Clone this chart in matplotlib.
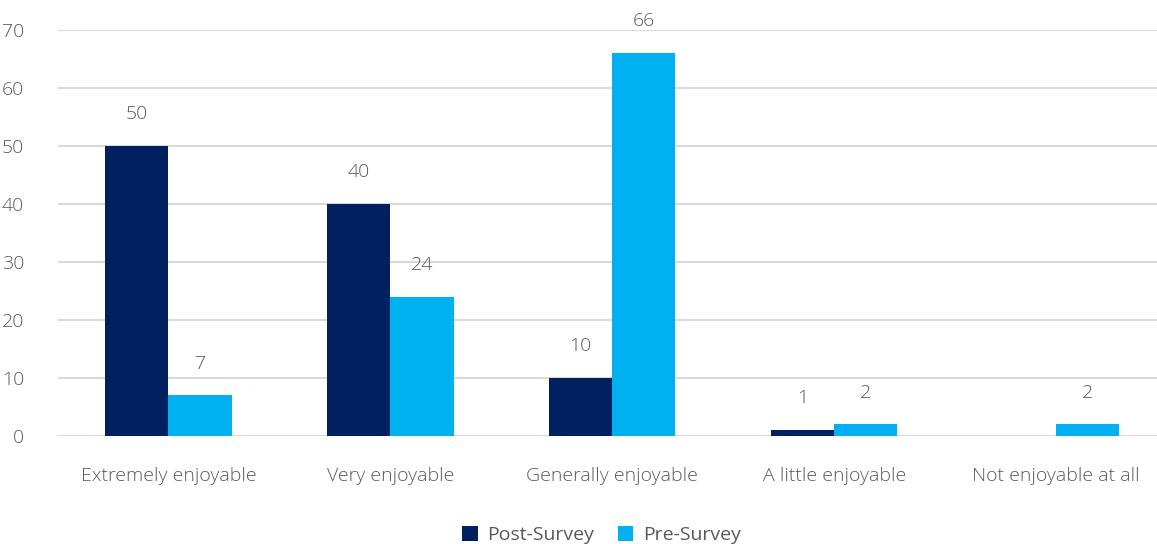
import matplotlib
matplotlib.use("Agg")
import matplotlib.pyplot as plt
import numpy as np

categories = ["Extremely enjoyable", "Very enjoyable", "Generally enjoyable", "A little enjoyable", "Not enjoyable at all"]
post_survey = [50, 40, 10, 1, 0]
pre_survey = [7, 24, 66, 2, 2]
yticks = [0, 10, 20, 30, 40, 50, 60, 70]

plt.rcParams['font.family'] = ['Open Sans', 'DejaVu Sans']
txt = '#595959'
fs = 14

fig = plt.figure(figsize=(11.57, 5.44), dpi=100)
ax = fig.add_axes([57.5 / 1157, 0.1985, 1109.5 / 1157, 0.7464])

x = np.arange(len(categories))
w = 0.285
b1 = ax.bar(x - w/2, post_survey, w, color='#002060', label='Post-Survey', zorder=3)
b2 = ax.bar(x + w/2, pre_survey, w, color='#00B0F0', label='Pre-Survey', zorder=3)

for bars, vals in ((b1, post_survey), (b2, pre_survey)):
    for r, v in zip(bars, vals):
        if v == 0:
            continue
        ax.text(r.get_x() + r.get_width()/2, v + 5.5, str(v), ha='center', va='center',
                fontsize=fs, color=txt, fontweight='light')

ax.set_xlim(-0.5, len(categories) - 0.5)
ax.set_ylim(0, 70)
ax.set_yticks(yticks)
ax.set_xticks(x)
ax.set_xticklabels(categories, fontweight='light')
for t in ax.get_yticklabels():
    t.set_fontweight('light')
ax.grid(axis='y', color='#d9d9d9', linewidth=1.5, zorder=0)
for s in ax.spines.values():
    s.set_visible(False)
ax.tick_params(axis='both', length=0, labelsize=fs, colors=txt)
ax.tick_params(axis='y', pad=24)
ax.tick_params(axis='x', pad=22)

fig.legend(handles=[b1, b2], labels=['Post-Survey', 'Pre-Survey'], loc='center',
           bbox_to_anchor=(0.52, 0.016), ncol=2, frameon=False,
           fontsize=fs, labelcolor=txt, handlelength=0.8, handleheight=0.8,
           columnspacing=1.2, handletextpad=0.5, borderpad=0)

fig.savefig('out.png', dpi=100)
